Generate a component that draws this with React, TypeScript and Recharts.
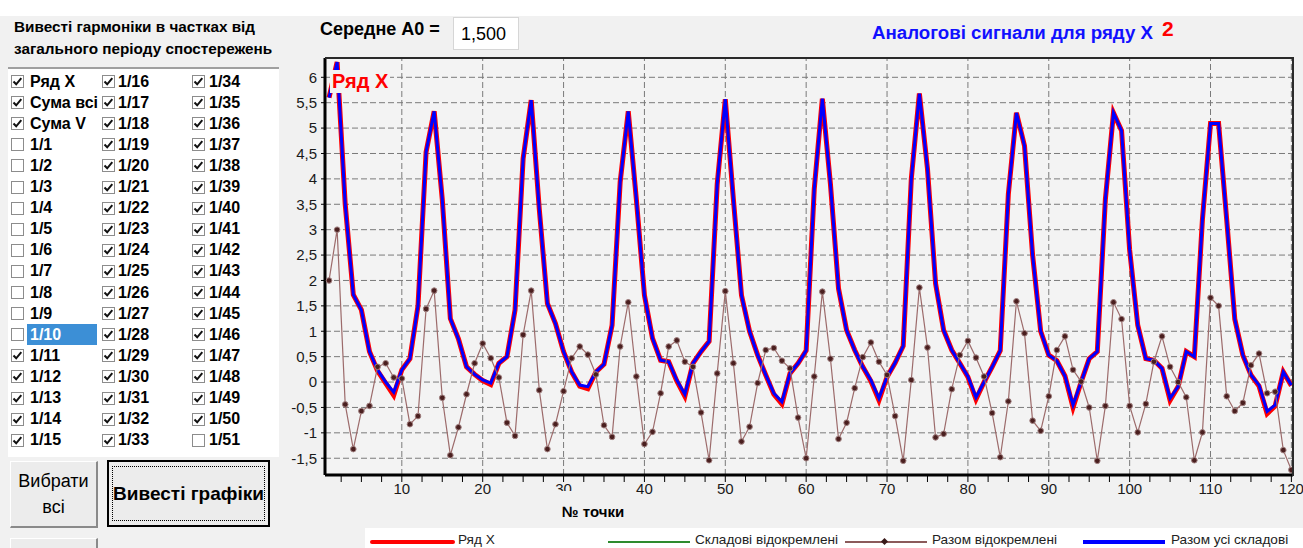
import React from 'react';
import { LineChart, Line, XAxis, YAxis, CartesianGrid, ReferenceLine } from 'recharts';

const SANS = "'Liberation Sans',Arial,sans-serif";
const PANEL_BG = '#f1f1f1';
const PLOT_BG = '#f3f3f3';

const pointNo = [
  1, 2, 3, 4, 5, 6, 7, 8, 9, 10, 11, 12, 13, 14, 15, 16, 17, 18, 19, 20,
  21, 22, 23, 24, 25, 26, 27, 28, 29, 30, 31, 32, 33, 34, 35, 36, 37, 38, 39, 40,
  41, 42, 43, 44, 45, 46, 47, 48, 49, 50, 51, 52, 53, 54, 55, 56, 57, 58, 59, 60,
  61, 62, 63, 64, 65, 66, 67, 68, 69, 70, 71, 72, 73, 74, 75, 76, 77, 78, 79, 80,
  81, 82, 83, 84, 85, 86, 87, 88, 89, 90, 91, 92, 93, 94, 95, 96, 97, 98, 99, 100,
  101, 102, 103, 104, 105, 106, 107, 108, 109, 110, 111, 112, 113, 114, 115, 116, 117, 118, 119, 120,
];

// Ряд X
const ryadX = [
  5.6, 6.3, 3.5, 1.72, 1.42, 0.6, 0.22, -0.02, -0.26, 0.24, 0.46, 1.5, 4.53, 5.33, 3.6, 1.25, 0.85, 0.3, 0.15, 0.03,
  -0.05, 0.37, 0.5, 1.42, 4.4, 5.55, 3.4, 1.55, 1.15, 0.6, 0.2, -0.08, -0.13, 0.2, 0.35, 1.12, 3.94, 5.33, 3.6, 1.71,
  0.86, 0.43, 0.4, 0.02, -0.28, 0.37, 0.6, 0.8, 3.9, 5.57, 3.6, 1.71, 1.0, 0.53, 0.14, -0.24, -0.43, 0.17, 0.37, 0.62,
  3.8, 5.58, 3.9, 1.84, 1.02, 0.63, 0.3, 0.02, -0.36, 0.1, 0.38, 0.71, 4.0, 5.68, 4.2, 1.94, 1.02, 0.63, 0.37, 0.1,
  -0.34, 0.0, 0.3, 0.62, 3.7, 5.3, 4.65, 2.5, 1.0, 0.53, 0.42, 0.12, -0.5, 0.0, 0.46, 0.6, 3.6, 5.3, 4.95, 2.6,
  1.12, 0.46, 0.43, 0.27, -0.36, -0.09, 0.6, 0.5, 3.2, 5.09, 5.09, 3.2, 1.24, 0.53, 0.14, -0.08, -0.62, -0.47, 0.2, -0.07,
];

// Разом усі складові
const razomUsi = [
  5.6, 6.3, 3.5, 1.72, 1.42, 0.6, 0.24, 0.0, -0.2, 0.24, 0.46, 1.5, 4.53, 5.33, 3.6, 1.25, 0.85, 0.3, 0.15, 0.04,
  -0.02, 0.37, 0.5, 1.42, 4.4, 5.55, 3.4, 1.55, 1.15, 0.6, 0.2, -0.06, -0.09, 0.2, 0.35, 1.12, 3.94, 5.33, 3.6, 1.71,
  0.86, 0.43, 0.4, 0.04, -0.24, 0.37, 0.6, 0.8, 3.9, 5.57, 3.6, 1.71, 1.0, 0.53, 0.14, -0.22, -0.39, 0.17, 0.37, 0.62,
  3.8, 5.58, 3.9, 1.84, 1.02, 0.63, 0.3, 0.04, -0.32, 0.1, 0.38, 0.71, 4.0, 5.68, 4.2, 1.94, 1.02, 0.63, 0.37, 0.11,
  -0.3, 0.0, 0.3, 0.62, 3.7, 5.3, 4.65, 2.5, 1.0, 0.53, 0.42, 0.12, -0.45, 0.0, 0.46, 0.6, 3.6, 5.3, 4.95, 2.6,
  1.12, 0.46, 0.43, 0.27, -0.32, -0.09, 0.6, 0.5, 3.2, 5.09, 5.09, 3.2, 1.24, 0.53, 0.14, -0.06, -0.58, -0.45, 0.2, -0.06,
];

// Разом відокремлені
const razomVidokr = [
  2.0, 3.0, -0.44, -1.32, -0.57, -0.47, 0.3, 0.37, 0.09, 0.07, -0.83, -0.67, 1.44, 1.8, -0.31, -1.44, -0.89, -0.24, 0.37, 0.76,
  0.47, 0.09, -0.8, -1.06, 0.93, 1.8, -0.16, -1.32, -0.83, -0.18, 0.47, 0.7, 0.54, 0.15, -0.85, -1.08, 0.7, 1.57, 0.11, -1.22,
  -0.98, -0.22, 0.7, 0.82, 0.4, 0.3, -0.6, -1.54, 0.17, 1.79, 0.37, -1.17, -0.88, -0.02, 0.63, 0.67, 0.42, 0.27, -0.7, -1.5,
  0.11, 1.78, 0.46, -1.12, -0.8, -0.12, 0.49, 0.78, 0.4, 0.14, -0.67, -1.55, 0.04, 1.86, 0.68, -1.09, -1.02, -0.14, 0.53, 0.81,
  0.48, 0.11, -0.61, -1.48, -0.38, 1.59, 0.96, -0.76, -0.96, -0.28, 0.63, 0.9, 0.24, 0.01, -0.5, -1.55, -0.47, 1.57, 1.24, -0.47,
  -0.99, -0.43, 0.4, 0.9, 0.3, 0.0, -0.3, -1.54, -0.99, 1.66, 1.5, -0.28, -0.57, -0.41, 0.33, 0.56, -0.22, -0.19, -1.34, -1.73,
];

const yTicks = [-1.5, -1, -0.5, 0, 0.5, 1, 1.5, 2, 2.5, 3, 3.5, 4, 4.5, 5, 5.5, 6];
const xGridTicks = [10, 20, 30, 40, 50, 60, 70, 80, 90, 100, 110, 120];
const xMinorTicks = [
  2.5, 5, 7.5, 10, 12.5, 15, 17.5, 20, 22.5, 25, 27.5, 30, 32.5, 35, 37.5, 40, 42.5, 45, 47.5, 50,
  52.5, 55, 57.5, 60, 62.5, 65, 67.5, 70, 72.5, 75, 77.5, 80, 82.5, 85, 87.5, 90, 92.5, 95, 97.5, 100,
  102.5, 105, 107.5, 110, 112.5, 115, 117.5, 120,
];

const col1Labels = ['Ряд X', 'Сума всіх', 'Сума V', '1/1', '1/2', '1/3', '1/4', '1/5', '1/6', '1/7', '1/8', '1/9', '1/10', '1/11', '1/12', '1/13', '1/14', '1/15'];
const col1Checked = [true, true, true, false, false, false, false, false, false, false, false, false, false, true, true, true, true, true];
const col2Labels = ['1/16', '1/17', '1/18', '1/19', '1/20', '1/21', '1/22', '1/23', '1/24', '1/25', '1/26', '1/27', '1/28', '1/29', '1/30', '1/31', '1/32', '1/33'];
const col2Checked = [true, true, true, true, true, true, true, true, true, true, true, true, true, true, true, true, true, true];
const col3Labels = ['1/34', '1/35', '1/36', '1/37', '1/38', '1/39', '1/40', '1/41', '1/42', '1/43', '1/44', '1/45', '1/46', '1/47', '1/48', '1/49', '1/50', '1/51'];
const col3Checked = [true, true, true, true, true, true, true, true, true, true, true, true, true, true, true, true, true, false];

const data = pointNo.map((n, i) => ({ n, x: ryadX[i], s: razomUsi[i], v: razomVidokr[i] }));

const fmt = (v: number) => String(v).replace('.', ',');

function XTick(props: any) {
  const { x, y, payload } = props;
  const v = payload.value;
  const major = v % 10 === 0;
  return (
    <g>
      <line x1={x} y1={y} x2={x} y2={y + 7} stroke="#000" strokeWidth={1} />
      {major && (
        <text x={x} y={y + 19} textAnchor="middle" fontFamily={SANS} fontSize={15} fill="#1a1a1a">
          {v}
        </text>
      )}
    </g>
  );
}

function CheckBox({ x, y, checked }: { x: number; y: number; checked: boolean }) {
  return (
    <svg style={{ position: 'absolute', left: x, top: y }} width={13} height={13}>
      <rect x={0.5} y={0.5} width={12} height={12} fill="#fff" stroke="#8c8c8c" />
      {checked && <polyline points="2.5,6.5 5.2,9.3 10.3,3.2" fill="none" stroke="#111" strokeWidth={2} />}
    </svg>
  );
}

function ListColumn({ labels, checked, boxX, textX, textW }: { labels: string[]; checked: boolean[]; boxX: number; textX: number; textW: number }) {
  return (
    <>
      {labels.map((lab, k) => {
        const yc = 81.5 + 21.1 * k;
        const sel = lab === '1/10';
        return (
          <React.Fragment key={lab}>
            <CheckBox x={boxX} y={yc - 6.5} checked={checked[k]} />
            {sel && <div style={{ position: 'absolute', left: textX - 3, top: yc - 10.5, width: 70, height: 21, background: '#3c8fd6' }} />}
            <div
              style={{
                position: 'absolute', left: textX, top: yc - 10, width: textW, height: 20, lineHeight: '20px',
                overflow: 'hidden', whiteSpace: 'nowrap', fontFamily: SANS, fontWeight: 'bold', fontSize: 16,
                color: sel ? '#fff' : '#000',
              }}
            >
              {lab}
            </div>
          </React.Fragment>
        );
      })}
    </>
  );
}

export default function App() {
  const abs = (s: React.CSSProperties): React.CSSProperties => ({ position: 'absolute', ...s });
  const legendText: React.CSSProperties = { top: 3, fontSize: 13.6, lineHeight: '18px', color: '#222', whiteSpace: 'nowrap' };
  return (
    <div style={abs({ left: 0, top: 0, width: 1303, height: 548, overflow: 'hidden', background: PANEL_BG, fontFamily: SANS })}>
      <div style={abs({ left: 0, top: 0, width: 1303, height: 16, background: '#fff' })} />
      <div style={abs({ left: 325, top: 58, width: 968, height: 417, background: PLOT_BG })} />

      {/* Left panel */}
      <div style={abs({ left: 14, top: 16, fontSize: 15.3, fontWeight: 'bold', lineHeight: '21.5px', color: '#000', whiteSpace: 'nowrap' })}>
        Вивесті гармоніки в частках від
        <br />
        загального періоду спостережень
      </div>
      <div style={abs({ left: 8, top: 67, width: 271, height: 388, background: '#fff', borderTop: '2px solid #a0a0a0' })} />
      <ListColumn labels={col1Labels} checked={col1Checked} boxX={11} textX={30} textW={68} />
      <ListColumn labels={col2Labels} checked={col2Checked} boxX={102} textX={118} textW={70} />
      <ListColumn labels={col3Labels} checked={col3Checked} boxX={192} textX={209} textW={68} />

      <div style={abs({ left: 10, top: 461, width: 85, height: 64, background: '#ececec', borderTop: '1px solid #fff', borderLeft: '1px solid #fff', borderRight: '2px solid #8a8a8a', borderBottom: '2px solid #8a8a8a', display: 'flex', alignItems: 'center', justifyContent: 'center', textAlign: 'center', fontSize: 18, lineHeight: '26px', color: '#000' })}>
        <div>Вибрати<br />всі</div>
      </div>
      <div style={abs({ left: 107, top: 460, width: 159, height: 63, background: '#ececec', border: '2px solid #000' })}>
        <div style={abs({ left: 3, top: 4, width: 151, height: 53, border: '1px dotted #000', display: 'flex', alignItems: 'center', justifyContent: 'center', fontSize: 19, fontWeight: 'bold', color: '#000', whiteSpace: 'nowrap' })}>
          Вивесті графіки
        </div>
      </div>
      <div style={abs({ left: 10, top: 538, width: 85, height: 20, background: '#ececec', borderTop: '1px solid #fff', borderLeft: '1px solid #fff', borderRight: '2px solid #8a8a8a' })} />

      {/* Top of right panel */}
      <div style={abs({ left: 320, top: 18, fontSize: 18, fontWeight: 'bold', color: '#000', lineHeight: '22px', whiteSpace: 'nowrap' })}>Середне А0 =</div>
      <div style={abs({ left: 453, top: 17, width: 66, height: 33, background: '#fff', border: '1px solid #d6d6d6', fontSize: 18, lineHeight: '33px', paddingLeft: 7, boxSizing: 'border-box', color: '#000' })}>1,500</div>
      <div style={abs({ left: 872, top: 20, fontSize: 18.7, fontWeight: 'bold', color: '#1010ff', lineHeight: '25px', whiteSpace: 'nowrap' })}>Аналогові сигнали для ряду Х</div>
      <div style={abs({ left: 1162, top: 16, fontSize: 21, fontWeight: 'bold', color: '#ff0000', lineHeight: '26px' })}>2</div>

      {/* Chart */}
      <div style={abs({ left: 0, top: 0 })}>
        <LineChart width={1303} height={548} data={data} margin={{ top: 58, right: 10, bottom: 33, left: 265 }}>
          <CartesianGrid vertical={false} stroke="#7a7a7a" strokeDasharray="6 3" />
          {xGridTicks.map((t) => (
            <ReferenceLine key={t} x={t} stroke="#7a7a7a" strokeDasharray="6 3" />
          ))}
          <XAxis
            dataKey="n"
            type="number"
            domain={[0.5, 120.2]}
            allowDataOverflow
            ticks={xMinorTicks}
            interval={0}
            tick={<XTick />}
            tickLine={false}
            tickSize={0}
            tickMargin={0}
            axisLine={{ stroke: '#000', strokeWidth: 3 }}
            height={40}
          />
          <YAxis
            type="number"
            domain={[-1.83, 6.38]}
            allowDataOverflow
            ticks={yTicks}
            interval={0}
            tickFormatter={fmt}
            tick={{ fontFamily: SANS, fontSize: 15, fill: '#1a1a1a' }}
            tickSize={4}
            tickMargin={4}
            tickLine={{ stroke: '#000' }}
            axisLine={{ stroke: '#000', strokeWidth: 3 }}
            width={60}
          />
          <Line dataKey="x" stroke="#ff0000" strokeWidth={5} dot={false} isAnimationActive={false} />
          <Line dataKey="s" stroke="#0000ff" strokeWidth={3} dot={false} isAnimationActive={false} />
          <Line
            dataKey="v"
            stroke="#9c6b6b"
            strokeWidth={1.2}
            dot={{ r: 2.8, fill: '#4a1f1f', stroke: '#a08080', strokeWidth: 1 }}
            isAnimationActive={false}
          />
        </LineChart>
      </div>

      {/* Plot border top/right */}
      <div style={abs({ left: 325, top: 57, width: 967, height: 417, borderTop: '2px solid #2a2a2a', borderRight: '2px solid #2a2a2a', pointerEvents: 'none' })} />

      {/* Series label */}
      <div style={abs({ left: 330, top: 70, padding: '0 2px', background: PLOT_BG, color: '#ff0000', fontWeight: 'bold', fontSize: 20, lineHeight: '23px' })}>Ряд X</div>

      {/* X axis title */}
      <div style={abs({ left: 553, top: 491, width: 80, height: 30, background: PANEL_BG, fontWeight: 'bold', fontSize: 15, textAlign: 'center', lineHeight: '18px', paddingTop: 12, boxSizing: 'border-box', color: '#000' })}>№ точки</div>

      {/* Legend */}
      <div style={abs({ left: 365, top: 528, width: 938, height: 20, background: '#fff' })}>
        <div style={abs({ left: 5, top: 12, width: 85, height: 4, background: '#ff0000', borderRadius: 2 })} />
        <div style={abs({ left: 93, ...legendText })}>Ряд X</div>
        <div style={abs({ left: 243, top: 13, width: 82, height: 2, background: '#2e8b2e' })} />
        <div style={abs({ left: 330, ...legendText })}>Складові відокремлені</div>
        <div style={abs({ left: 480, top: 13, width: 82, height: 1.5, background: '#8b5a5a' })} />
        <div style={abs({ left: 517, top: 11, width: 5, height: 5, background: '#3a1a1a', transform: 'rotate(45deg)' })} />
        <div style={abs({ left: 567, ...legendText })}>Разом відокремлені</div>
        <div style={abs({ left: 718, top: 12, width: 82, height: 3.5, background: '#0000ff' })} />
        <div style={abs({ left: 806, ...legendText })}>Разом усі складові</div>
      </div>
    </div>
  );
}
